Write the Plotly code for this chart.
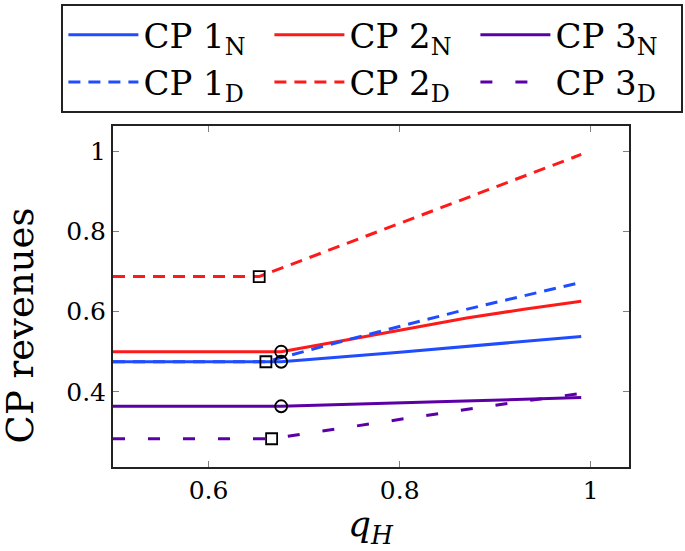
import plotly.graph_objects as go

# ---- data ----
x_cp1_n = [0.5, 0.676, 0.8, 0.99]
y_cp1_n = [0.475, 0.475, 0.499, 0.538]

x_cp2_n = [0.5, 0.676, 0.75, 0.87, 0.93, 0.99]
y_cp2_n = [0.5, 0.5, 0.532, 0.584, 0.606, 0.626]

x_cp3_n = [0.5, 0.676, 0.84, 0.99]
y_cp3_n = [0.364, 0.364, 0.375, 0.386]

x_cp1_d = [0.5, 0.66, 0.749, 0.872, 0.99]
y_cp1_d = [0.475, 0.475, 0.532, 0.607, 0.673]

x_cp2_d = [0.5, 0.653, 0.76, 0.88, 0.99]
y_cp2_d = [0.6875, 0.6875, 0.784, 0.893, 0.992]

x_cp3_d = [0.5, 0.666, 0.847, 0.924, 0.99]
y_cp3_d = [0.283, 0.283, 0.348, 0.375, 0.396]

x_squares = [0.653, 0.66, 0.666]
y_squares = [0.6875, 0.475, 0.283]
x_circles = [0.676, 0.676, 0.676]
y_circles = [0.5, 0.475, 0.364]

x_ticks = [0.6, 0.8, 1]
x_ticktext = ["0.6", "0.8", "1"]
y_ticks = [0.4, 0.6, 0.8, 1]
y_ticktext = ["0.4", "0.6", "0.8", "1"]

names = ["CP 1<sub>N</sub>", "CP 2<sub>N</sub>", "CP 3<sub>N</sub>",
         "CP 1<sub>D</sub>", "CP 2<sub>D</sub>", "CP 3<sub>D</sub>"]

BLUE = "#1f4cff"
RED = "#ff1a1a"
PURPLE = "#5c00a6"
FONT = "DejaVu Serif"

fig = go.Figure()
series = [
    (x_cp1_n, y_cp1_n, BLUE, "solid"),
    (x_cp2_n, y_cp2_n, RED, "solid"),
    (x_cp3_n, y_cp3_n, PURPLE, "solid"),
    (x_cp1_d, y_cp1_d, BLUE, "12px,8px"),
    (x_cp2_d, y_cp2_d, RED, "12px,8px"),
    (x_cp3_d, y_cp3_d, PURPLE, "12px,23px"),
]
for (xs, ys, col, dash), nm in zip(series, names):
    fig.add_trace(go.Scatter(x=xs, y=ys, mode="lines", name=nm,
                             line=dict(color=col, width=3, dash=dash)))

fig.add_trace(go.Scatter(x=x_squares, y=y_squares, mode="markers", showlegend=False,
                         marker=dict(symbol="square-open", size=11,
                                     line=dict(color="black", width=1.8), color="black")))
fig.add_trace(go.Scatter(x=x_circles, y=y_circles, mode="markers", showlegend=False,
                         marker=dict(symbol="circle-open", size=12,
                                     line=dict(color="black", width=1.8), color="black")))

axis_common = dict(ticks="inside", ticklen=6, tickwidth=1, tickcolor="#808080",
                   showline=True, linecolor="#222222", linewidth=2, mirror="ticks",
                   showgrid=False, zeroline=False,
                   tickfont=dict(family=FONT, size=25, color="black"))

fig.update_layout(
    width=685, height=551,
    margin=dict(l=113, r=56, t=126, b=84, autoexpand=False),
    paper_bgcolor="white", plot_bgcolor="white",
    font=dict(family=FONT, color="black", size=25),
    legend=dict(orientation="h", x=-0.1, xanchor="left", y=1.357, yanchor="top",
                bordercolor="#222222", borderwidth=2, bgcolor="white",
                itemwidth=70, entrywidth=121,
                font=dict(family=FONT, size=34, color="black")),
    xaxis=dict(range=[0.5, 1.04], tickvals=x_ticks, ticktext=x_ticktext, **axis_common),
    yaxis=dict(range=[0.2125, 1.063], tickvals=y_ticks, ticktext=y_ticktext, **axis_common),
    annotations=[
        dict(text="CP revenues", textangle=-90, xref="paper", yref="paper",
             x=-0.18, y=0.4155, xanchor="center", yanchor="middle", showarrow=False,
             font=dict(family=FONT, size=37, color="black")),
        dict(text="<i>q</i><sub><i>H</i></sub>", xref="paper", yref="paper",
             x=0.5, y=-0.175, xanchor="center", yanchor="middle", showarrow=False,
             font=dict(family=FONT, size=36, color="black")),
    ],
)

fig.write_html("out.html", config={"displayModeBar": False},
               post_script="document.body.style.margin='0px';document.body.style.padding='0px';")
